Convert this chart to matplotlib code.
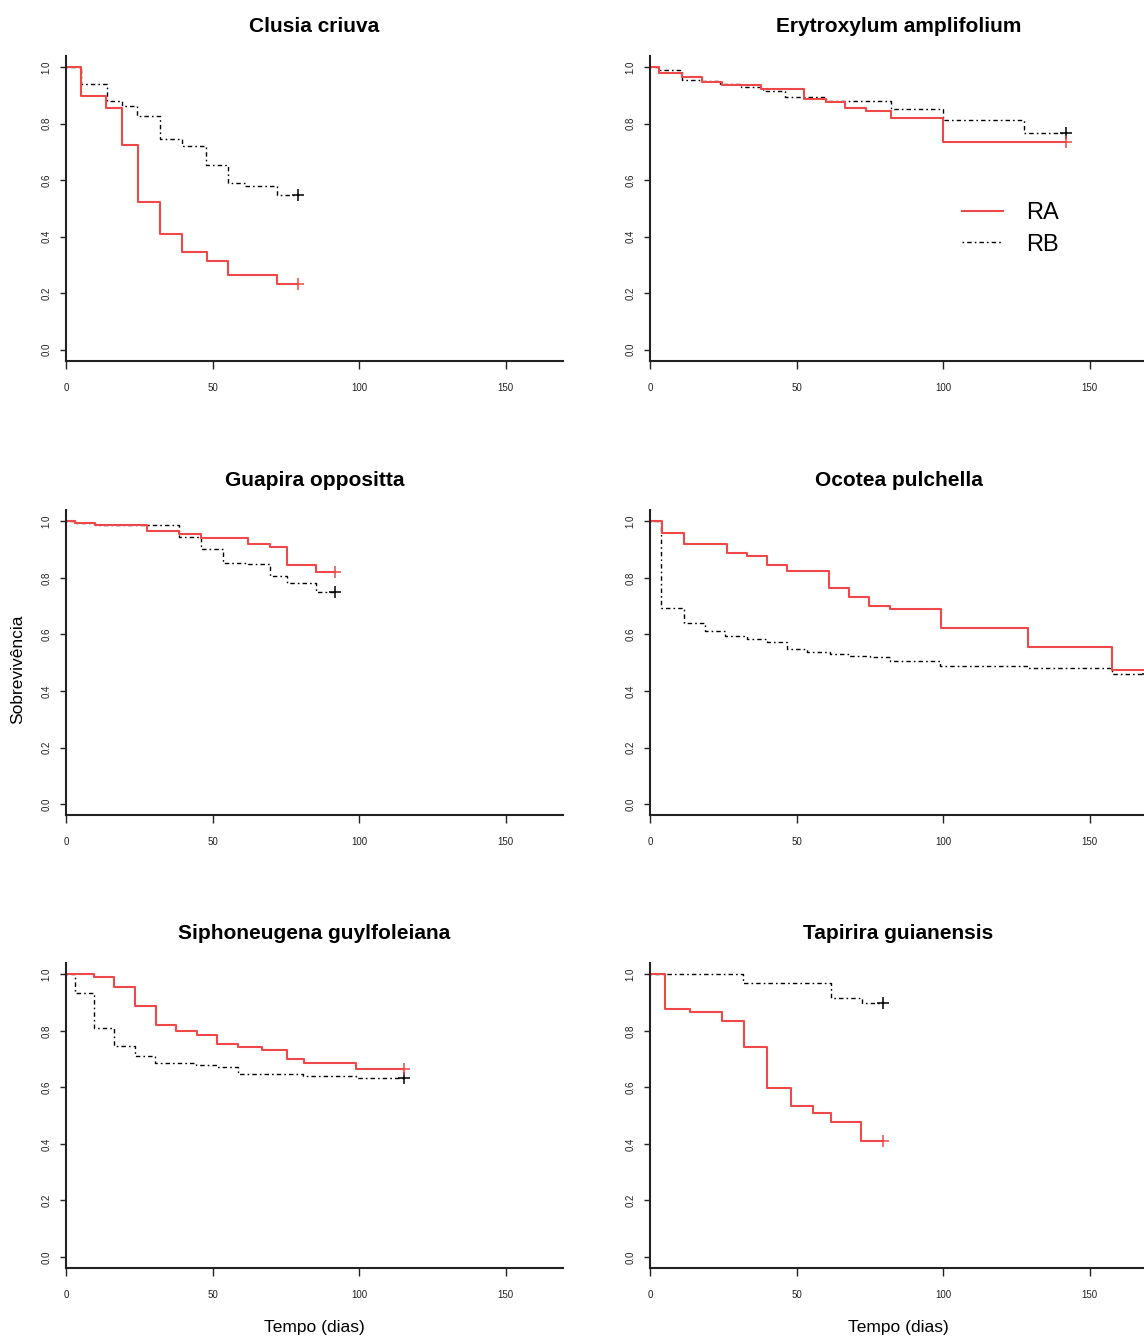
import matplotlib
matplotlib.use("Agg")
import matplotlib.pyplot as plt
from matplotlib.lines import Line2D

FONT = ['Liberation Sans', 'DejaVu Sans']
plt.rcParams['font.family'] = FONT

# ---------------- data ----------------
titles = ["Clusia criuva", "Erytroxylum amplifolium", "Guapira oppositta",
          "Ocotea pulchella", "Siphoneugena guylfoleiana", "Tapirira guianensis"]
group_labels = ["RA", "RB"]

clusia_ra_t = [0, 5, 13.5, 19, 24.7, 32, 39.5, 48, 55.4, 72, 79]
clusia_ra_s = [1, 0.897, 0.855, 0.723, 0.522, 0.41, 0.344, 0.312, 0.265, 0.233, 0.233]
clusia_rb_t = [0, 5, 14, 19, 24.3, 32, 39.6, 47.8, 55.4, 61, 72, 79]
clusia_rb_s = [1, 0.941, 0.881, 0.861, 0.825, 0.746, 0.72, 0.653, 0.59, 0.58, 0.547, 0.547]

erytro_ra_t = [0, 3.2, 11, 17.9, 24.4, 38, 52.5, 60, 66.6, 73.6, 82.3, 100, 142]
erytro_ra_s = [1, 0.978, 0.966, 0.948, 0.935, 0.922, 0.887, 0.877, 0.856, 0.845, 0.82, 0.733, 0.733]
erytro_rb_t = [0, 2.8, 10.8, 17, 23.8, 31, 38.5, 46, 60, 82.3, 100, 127.6, 142]
erytro_rb_s = [1, 0.99, 0.954, 0.95, 0.94, 0.93, 0.916, 0.894, 0.878, 0.852, 0.8125, 0.765, 0.765]

guapira_ra_t = [0, 3, 10, 27.5, 38.6, 46, 62, 69.6, 75.4, 85.4, 91.8]
guapira_ra_s = [1, 0.995, 0.988, 0.966, 0.955, 0.942, 0.92, 0.911, 0.845, 0.821, 0.821]
guapira_rb_t = [0, 3, 10, 38.6, 46, 53.5, 62, 69.6, 75.4, 85.4, 91.8]
guapira_rb_s = [1, 0.995, 0.986, 0.946, 0.904, 0.854, 0.848, 0.808, 0.781, 0.751, 0.751]

ocotea_ra_t = [0, 4, 11.7, 26.2, 33, 39.8, 46.6, 61, 68, 74.6, 81.7, 99.1, 129, 157.4, 170]
ocotea_ra_s = [1, 0.959, 0.92, 0.89, 0.876, 0.845, 0.824, 0.766, 0.734, 0.701, 0.69, 0.622, 0.555, 0.476, 0.476]
ocotea_rb_t = [0, 3.7, 11.5, 18.8, 25.6, 33, 39.8, 46.6, 53.7, 61.3, 68, 75, 81.7, 99, 129, 157.4, 170]
ocotea_rb_s = [1, 0.694, 0.641, 0.613, 0.593, 0.585, 0.574, 0.55, 0.539, 0.532, 0.525, 0.519, 0.507, 0.487, 0.48, 0.461, 0.461]

siphon_ra_t = [0, 9.5, 16.5, 23.7, 30.6, 37.6, 44.6, 51.6, 58.5, 66.8, 75.4, 81, 99, 115.2]
siphon_ra_s = [1, 0.989, 0.954, 0.887, 0.819, 0.80, 0.787, 0.754, 0.743, 0.732, 0.699, 0.687, 0.664, 0.664]
siphon_rb_t = [0, 3.2, 9.5, 16.5, 23.4, 30.4, 44.3, 51.5, 58.5, 80.8, 99, 115.2]
siphon_rb_s = [1, 0.933, 0.811, 0.746, 0.711, 0.687, 0.678, 0.671, 0.646, 0.64, 0.633, 0.633]

tapirira_ra_t = [0, 5, 13.5, 24.6, 32, 39.8, 48.2, 55.5, 61.6, 71.9, 79.6]
tapirira_ra_s = [1, 0.876, 0.868, 0.835, 0.743, 0.599, 0.534, 0.51, 0.477, 0.41, 0.41]
tapirira_rb_t = [0, 31.8, 61.6, 72.2, 79.6]
tapirira_rb_s = [1, 0.97, 0.917, 0.9, 0.9]

x_ticks = [0, 50, 100, 150]
y_ticks = [0.0, 0.2, 0.4, 0.6, 0.8, 1.0]
y_ticklabels = ["0.0", "0.2", "0.4", "0.6", "0.8", "1.0"]
xlabel_text = "Tempo (dias)"
ylabel_text = "Sobrevivência"

panels = [
    (clusia_ra_t, clusia_ra_s, clusia_rb_t, clusia_rb_s),
    (erytro_ra_t, erytro_ra_s, erytro_rb_t, erytro_rb_s),
    (guapira_ra_t, guapira_ra_s, guapira_rb_t, guapira_rb_s),
    (ocotea_ra_t, ocotea_ra_s, ocotea_rb_t, ocotea_rb_s),
    (siphon_ra_t, siphon_ra_s, siphon_rb_t, siphon_rb_s),
    (tapirira_ra_t, tapirira_ra_s, tapirira_rb_t, tapirira_rb_s),
]

# ---------------- layout ----------------
W, H = 1144, 1340
fig = plt.figure(figsize=(W / 100, H / 100), dpi=100)
fig.patch.set_facecolor("white")

col_left = [66, 650]
row_bottom = [361, 815.4, 1268.3]
ax_w = 497
ax_h = 305.3

RED = "#f04848"
DASH = (0, (1.2, 2.2, 3.2, 2.2))

axes = []
for i, (ra_t, ra_s, rb_t, rb_s) in enumerate(panels):
    r, c = divmod(i, 2)
    l = col_left[c] / W
    b = 1 - row_bottom[r] / H
    ax = fig.add_axes([l, b, ax_w / W, ax_h / H])
    axes.append(ax)

    ax.step(rb_t, rb_s, where="post", color="black", lw=1.0, linestyle=DASH)
    ax.step(ra_t, ra_s, where="post", color=RED, lw=1.5)
    ax.plot(rb_t[-1], rb_s[-1], marker="+", color="black", ms=8, mew=1.1)
    ax.plot(ra_t[-1], ra_s[-1], marker="+", color=RED, ms=8, mew=1.1)

    ax.set_xlim(0, 169.5)
    ax.set_ylim(-0.04, 1.04)
    ax.set_xticks(x_ticks)
    ax.set_xticklabels([str(v) for v in x_ticks])
    ax.set_yticks(y_ticks)
    ax.set_yticklabels(y_ticklabels, rotation=90, va="center")
    for s in ("top", "right"):
        ax.spines[s].set_visible(False)
    for s in ("left", "bottom"):
        ax.spines[s].set_linewidth(1.5)
        ax.spines[s].set_color("#222222")
    ax.tick_params(axis="x", length=5.5, width=1.0, pad=10, labelsize=7, colors="#222222")
    ax.tick_params(axis="y", length=4.5, width=1.0, pad=6, labelsize=7, colors="#222222")
    ax.set_title(titles[i], fontsize=15, fontweight="bold", pad=17)

    if r == 2:
        ax.set_xlabel(xlabel_text, fontsize=12.5)
        ax.xaxis.set_label_coords(0.5, -59 / ax_h)
        ax.xaxis.label.set_va("center")
    if i == 2:
        ax.set_ylabel(ylabel_text, fontsize=12.5)
        ax.yaxis.set_label_coords(-48 / ax_w, 0.48)
        ax.yaxis.label.set_va("center")

# legend in second panel
h_ra = Line2D([], [], color=RED, lw=1.5)
h_rb = Line2D([], [], color="black", lw=1.0, linestyle=DASH)
axes[1].legend([h_ra, h_rb], group_labels, loc="center left",
               bbox_to_anchor=((962 - 650) / ax_w, (361 - 229) / ax_h),
               frameon=False, fontsize=17, handlelength=1.75, handletextpad=0.95,
               labelspacing=0.4, borderpad=0, borderaxespad=0)

fig.savefig("out.png", dpi=100, facecolor="white")
